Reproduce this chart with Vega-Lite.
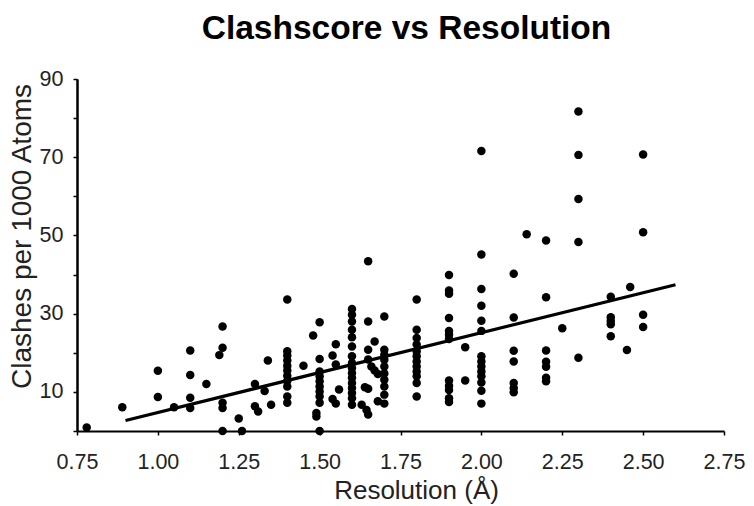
{
  "$schema": "https://vega.github.io/schema/vega-lite/v6.json",
  "width": 647,
  "height": 352,
  "autosize": "none",
  "padding": {"left": 77, "top": 79, "right": 30, "bottom": 75},
  "background": "white",
  "title": {"text": "Clashscore vs Resolution", "font": "Liberation Sans", "fontSize": 33.5, "fontWeight": "bold", "color": "#000", "anchor": "middle", "offset": 22, "dx": 6},
  "config": {
    "view": {"stroke": null},
    "axis": {"grid": false, "domainColor": "#000", "domainWidth": 2, "tickColor": "#000", "tickWidth": 1.5, "tickSize": 4, "labelFont": "Liberation Sans", "titleFont": "Liberation Sans", "labelColor": "#222", "titleColor": "#222", "labelFontSize": 21.5, "titleFontSize": 26, "titleFontWeight": "normal", "labelFlush": false, "labelOverlap": false}
  },
  "datasets": {
    "points": [
      {"res": 0.78, "clash": 0.9},
      {"res": 0.89, "clash": 6.1},
      {"res": 1.00, "clash": 15.4},
      {"res": 1.00, "clash": 8.7},
      {"res": 1.05, "clash": 6.1},
      {"res": 1.10, "clash": 20.6},
      {"res": 1.10, "clash": 14.3},
      {"res": 1.10, "clash": 8.5},
      {"res": 1.10, "clash": 5.9},
      {"res": 1.15, "clash": 12.0},
      {"res": 1.20, "clash": 26.7},
      {"res": 1.20, "clash": 21.3},
      {"res": 1.19, "clash": 19.4},
      {"res": 1.20, "clash": 7.2},
      {"res": 1.20, "clash": 5.9},
      {"res": 1.20, "clash": 0},
      {"res": 1.25, "clash": 3.2},
      {"res": 1.26, "clash": 0},
      {"res": 1.30, "clash": 12.0},
      {"res": 1.30, "clash": 6.3},
      {"res": 1.31, "clash": 5.0},
      {"res": 1.33, "clash": 10.2},
      {"res": 1.34, "clash": 18.0},
      {"res": 1.35, "clash": 6.7},
      {"res": 1.40, "clash": 33.6},
      {"res": 1.40, "clash": 20.4},
      {"res": 1.40, "clash": 19.3},
      {"res": 1.40, "clash": 18.0},
      {"res": 1.40, "clash": 16.7},
      {"res": 1.40, "clash": 15.5},
      {"res": 1.40, "clash": 14.1},
      {"res": 1.40, "clash": 12.8},
      {"res": 1.40, "clash": 11.4},
      {"res": 1.40, "clash": 8.8},
      {"res": 1.40, "clash": 7.2},
      {"res": 1.45, "clash": 16.7},
      {"res": 1.48, "clash": 24.4},
      {"res": 1.50, "clash": 27.8},
      {"res": 1.50, "clash": 18.4},
      {"res": 1.50, "clash": 15.2},
      {"res": 1.50, "clash": 14.0},
      {"res": 1.50, "clash": 12.7},
      {"res": 1.50, "clash": 11.4},
      {"res": 1.50, "clash": 10.1},
      {"res": 1.50, "clash": 8.8},
      {"res": 1.50, "clash": 7.2},
      {"res": 1.49, "clash": 4.6},
      {"res": 1.49, "clash": 3.7},
      {"res": 1.50, "clash": 0},
      {"res": 1.55, "clash": 22.2},
      {"res": 1.54, "clash": 19.3},
      {"res": 1.55, "clash": 17.0},
      {"res": 1.56, "clash": 10.6},
      {"res": 1.54, "clash": 8.2},
      {"res": 1.55, "clash": 7.0},
      {"res": 1.60, "clash": 31.2},
      {"res": 1.60, "clash": 29.7},
      {"res": 1.60, "clash": 28.0},
      {"res": 1.60, "clash": 25.9},
      {"res": 1.60, "clash": 24.0},
      {"res": 1.60, "clash": 21.6},
      {"res": 1.60, "clash": 19.1},
      {"res": 1.60, "clash": 17.4},
      {"res": 1.60, "clash": 16.1},
      {"res": 1.60, "clash": 14.8},
      {"res": 1.60, "clash": 13.6},
      {"res": 1.60, "clash": 12.3},
      {"res": 1.60, "clash": 11.0},
      {"res": 1.60, "clash": 9.7},
      {"res": 1.60, "clash": 8.4},
      {"res": 1.60, "clash": 6.7},
      {"res": 1.65, "clash": 43.4},
      {"res": 1.65, "clash": 28.0},
      {"res": 1.67, "clash": 22.9},
      {"res": 1.65, "clash": 20.8},
      {"res": 1.65, "clash": 18.3},
      {"res": 1.66, "clash": 16.5},
      {"res": 1.67, "clash": 15.5},
      {"res": 1.68, "clash": 14.6},
      {"res": 1.64, "clash": 11.2},
      {"res": 1.65, "clash": 10.8},
      {"res": 1.63, "clash": 6.7},
      {"res": 1.645, "clash": 5.4},
      {"res": 1.65, "clash": 4.2},
      {"res": 1.70, "clash": 29.3},
      {"res": 1.70, "clash": 20.8},
      {"res": 1.70, "clash": 19.5},
      {"res": 1.70, "clash": 18.2},
      {"res": 1.70, "clash": 16.5},
      {"res": 1.70, "clash": 14.7},
      {"res": 1.70, "clash": 13.1},
      {"res": 1.70, "clash": 11.4},
      {"res": 1.70, "clash": 9.3},
      {"res": 1.70, "clash": 7.0},
      {"res": 1.68, "clash": 7.6},
      {"res": 1.80, "clash": 33.6},
      {"res": 1.80, "clash": 25.9},
      {"res": 1.80, "clash": 23.8},
      {"res": 1.80, "clash": 22.1},
      {"res": 1.80, "clash": 20.4},
      {"res": 1.80, "clash": 19.1},
      {"res": 1.80, "clash": 17.8},
      {"res": 1.80, "clash": 16.5},
      {"res": 1.80, "clash": 15.2},
      {"res": 1.80, "clash": 14.0},
      {"res": 1.80, "clash": 12.3},
      {"res": 1.80, "clash": 8.8},
      {"res": 1.90, "clash": 39.9},
      {"res": 1.90, "clash": 35.9},
      {"res": 1.90, "clash": 35.1},
      {"res": 1.90, "clash": 28.9},
      {"res": 1.90, "clash": 25.6},
      {"res": 1.90, "clash": 24.6},
      {"res": 1.90, "clash": 23.5},
      {"res": 1.90, "clash": 12.9},
      {"res": 1.90, "clash": 11.6},
      {"res": 1.90, "clash": 10.5},
      {"res": 1.90, "clash": 8.4},
      {"res": 1.90, "clash": 7.4},
      {"res": 1.95, "clash": 21.4},
      {"res": 1.95, "clash": 12.9},
      {"res": 2.00, "clash": 71.6},
      {"res": 2.00, "clash": 45.1},
      {"res": 2.00, "clash": 36.3},
      {"res": 2.00, "clash": 32.0},
      {"res": 2.00, "clash": 28.2},
      {"res": 2.00, "clash": 25.6},
      {"res": 2.00, "clash": 19.1},
      {"res": 2.00, "clash": 17.8},
      {"res": 2.00, "clash": 16.5},
      {"res": 2.00, "clash": 15.2},
      {"res": 2.00, "clash": 14.0},
      {"res": 2.00, "clash": 12.4},
      {"res": 2.00, "clash": 10.3},
      {"res": 2.00, "clash": 7.0},
      {"res": 2.10, "clash": 40.2},
      {"res": 2.10, "clash": 29.0},
      {"res": 2.10, "clash": 20.5},
      {"res": 2.10, "clash": 17.8},
      {"res": 2.10, "clash": 12.3},
      {"res": 2.10, "clash": 11.0},
      {"res": 2.10, "clash": 9.9},
      {"res": 2.14, "clash": 50.3},
      {"res": 2.20, "clash": 48.7},
      {"res": 2.20, "clash": 34.2},
      {"res": 2.20, "clash": 20.6},
      {"res": 2.20, "clash": 17.7},
      {"res": 2.20, "clash": 16.4},
      {"res": 2.20, "clash": 13.6},
      {"res": 2.20, "clash": 12.7},
      {"res": 2.25, "clash": 26.3},
      {"res": 2.30, "clash": 81.7},
      {"res": 2.30, "clash": 70.6},
      {"res": 2.30, "clash": 59.3},
      {"res": 2.30, "clash": 48.3},
      {"res": 2.30, "clash": 18.7},
      {"res": 2.40, "clash": 34.3},
      {"res": 2.40, "clash": 29.1},
      {"res": 2.40, "clash": 28.1},
      {"res": 2.40, "clash": 27.3},
      {"res": 2.40, "clash": 24.2},
      {"res": 2.45, "clash": 20.7},
      {"res": 2.46, "clash": 36.8},
      {"res": 2.50, "clash": 70.7},
      {"res": 2.50, "clash": 50.8},
      {"res": 2.50, "clash": 29.7},
      {"res": 2.50, "clash": 26.6}
    ],
    "fit": [
      {"res": 0.90, "clash": 2.7},
      {"res": 2.60, "clash": 37.4}
    ]
  },
  "resolve": {"axis": {"y": "independent"}},
  "layer": [
    {
      "data": {"name": "fit"},
      "mark": {"type": "line", "color": "#000", "strokeWidth": 3.2},
      "encoding": {
        "x": {"field": "res", "type": "quantitative"},
        "y": {
          "field": "clash", "type": "quantitative",
          "axis": {"orient": "left", "title": null, "labels": false, "values": [0, 20, 40, 60, 80], "domain": true}
        }
      }
    },
    {
      "data": {"name": "points"},
      "mark": {"type": "point", "filled": true, "color": "#000", "opacity": 1, "size": 72},
      "encoding": {
        "x": {
          "field": "res", "type": "quantitative",
          "scale": {"domain": [0.75, 2.75], "nice": false, "zero": false},
          "axis": {"title": "Resolution (Å)", "values": [0.75, 1.0, 1.25, 1.5, 1.75, 2.0, 2.25, 2.5, 2.75], "format": ".2f", "labelPadding": 16, "titleX": 339, "titleY": 67, "titleBaseline": "alphabetic", "titleAnchor": "middle"}
        },
        "y": {
          "field": "clash", "type": "quantitative",
          "scale": {"domain": [0, 90], "nice": false},
          "axis": {"orient": "left", "title": "Clashes per 1000 Atoms", "values": [10, 30, 50, 70, 90], "labelPadding": 10, "titleX": -47, "titleY": 157, "titleAngle": -90, "titleFontSize": 28, "titleBaseline": "alphabetic", "titleAnchor": "middle", "titleAlign": "center"}
        }
      }
    }
  ]
}
